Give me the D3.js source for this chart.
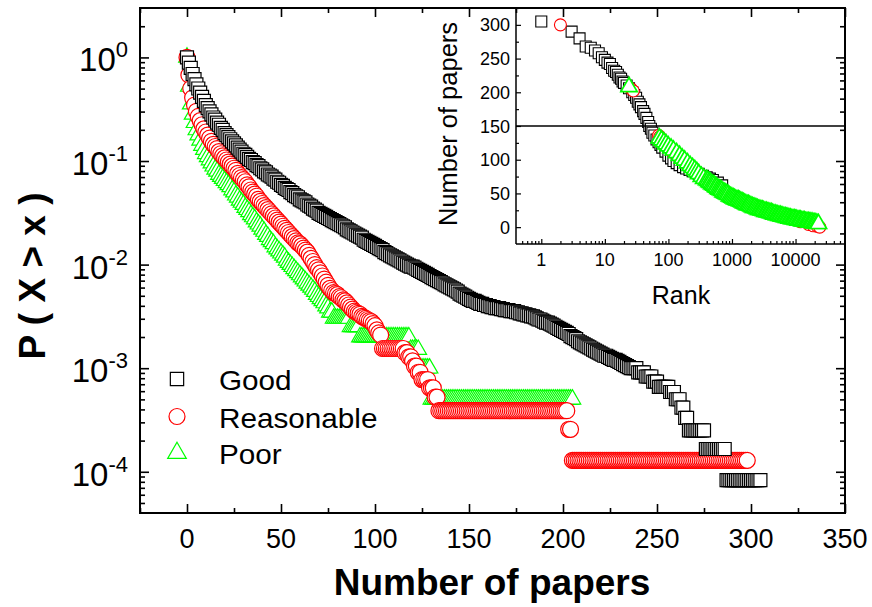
<!DOCTYPE html>
<html>
<head>
<meta charset="utf-8">
<script src="https://cdn.jsdelivr.net/npm/d3@7/dist/d3.min.js"></script>
<style>
  body { margin: 0; background: #fff; }
  svg { font-family: "Liberation Sans", Arial, sans-serif; }
</style>
</head>
<body>
<div id="chart"></div>
<script>
// CCDF P(X > x) for x = 0,1,2,... (index = number of papers), stored as log10(P)
const goodLogP = [
  0, -0.05, -0.10, -0.16, -0.21, -0.26, -0.30, -0.34, -0.38, -0.42,
  -0.46, -0.49, -0.52, -0.55, -0.58, -0.60, -0.63, -0.65, -0.68, -0.70,
  -0.73, -0.75, -0.77, -0.79, -0.81, -0.83, -0.85, -0.87, -0.89, -0.91,
  -0.93, -0.94, -0.96, -0.98, -0.99, -1.01, -1.02, -1.04, -1.05, -1.07,
  -1.08, -1.10, -1.11, -1.13, -1.14, -1.15, -1.17, -1.18, -1.20, -1.21,
  -1.23, -1.24, -1.26, -1.27, -1.28, -1.30, -1.31, -1.33, -1.34, -1.35,
  -1.37, -1.38, -1.39, -1.40, -1.42, -1.43, -1.44, -1.46, -1.47, -1.48,
  -1.50, -1.51, -1.52, -1.53, -1.54, -1.55, -1.56, -1.57, -1.58, -1.59,
  -1.60, -1.61, -1.62, -1.63, -1.64, -1.66, -1.67, -1.68, -1.69, -1.70,
  -1.71, -1.72, -1.73, -1.74, -1.76, -1.77, -1.78, -1.79, -1.80, -1.81,
  -1.82, -1.83, -1.84, -1.85, -1.86, -1.88, -1.89, -1.90, -1.91, -1.92,
  -1.93, -1.94, -1.95, -1.96, -1.97, -1.98, -1.99, -2.00, -2.01, -2.02,
  -2.02, -2.03, -2.04, -2.05, -2.06, -2.07, -2.08, -2.09, -2.10, -2.11,
  -2.12, -2.13, -2.14, -2.15, -2.16, -2.17, -2.18, -2.19, -2.20, -2.21,
  -2.22, -2.23, -2.24, -2.25, -2.26, -2.28, -2.29, -2.30, -2.31, -2.32,
  -2.33, -2.34, -2.35, -2.35, -2.36, -2.37, -2.38, -2.38, -2.39, -2.39,
  -2.40, -2.40, -2.41, -2.41, -2.42, -2.42, -2.42, -2.43, -2.43, -2.44,
  -2.44, -2.44, -2.45, -2.45, -2.45, -2.46, -2.46, -2.47, -2.47, -2.48,
  -2.48, -2.49, -2.49, -2.50, -2.50, -2.51, -2.52, -2.53, -2.53, -2.54,
  -2.55, -2.56, -2.56, -2.57, -2.58, -2.59, -2.60, -2.61, -2.62, -2.63,
  -2.64, -2.65, -2.66, -2.67, -2.69, -2.70, -2.71, -2.72, -2.74, -2.75,
  -2.76, -2.77, -2.78, -2.79, -2.80, -2.81, -2.82, -2.83, -2.84, -2.85,
  -2.86, -2.87, -2.88, -2.88, -2.89, -2.90, -2.91, -2.92, -2.92, -2.93,
  -2.94, -2.95, -2.96, -2.97, -2.98, -2.99, -3.00, -3.00, -3.00, -3.00,
  -3.04, -3.04, -3.04, -3.04, -3.08, -3.08, -3.08, -3.08, -3.13, -3.13,
  -3.13, -3.18, -3.18, -3.18, -3.18, -3.18, -3.18, -3.23, -3.23, -3.23,
  -3.30, -3.30, -3.30, -3.38, -3.38, -3.48, -3.48, -3.60, -3.60, -3.60,
  -3.60, -3.60, -3.60, -3.60, -3.60, -3.60, -3.78, -3.78, -3.78, -3.78,
  -3.78, -3.78, -3.78, -3.78, -3.78, -3.78, -3.78, -4.08, -4.08, -4.08,
  -4.08, -4.08, -4.08, -4.08, -4.08, -4.08, -4.08, -4.08, -4.08, -4.08,
  -4.08, -4.08, -4.08, -4.08, -4.08, -4.08
];

const reasonableLogP = [
  0, -0.17, -0.30, -0.39, -0.46, -0.52, -0.57, -0.61, -0.65, -0.69,
  -0.72, -0.75, -0.78, -0.81, -0.84, -0.86, -0.88, -0.91, -0.93, -0.95,
  -0.97, -0.99, -1.01, -1.03, -1.05, -1.07, -1.09, -1.12, -1.14, -1.16,
  -1.18, -1.20, -1.23, -1.25, -1.28, -1.30, -1.32, -1.34, -1.37, -1.39,
  -1.41, -1.43, -1.45, -1.47, -1.49, -1.51, -1.53, -1.55, -1.57, -1.59,
  -1.61, -1.63, -1.65, -1.67, -1.69, -1.71, -1.73, -1.75, -1.77, -1.79,
  -1.80, -1.82, -1.84, -1.86, -1.88, -1.91, -1.94, -1.97, -2.00, -2.03,
  -2.05, -2.08, -2.11, -2.14, -2.17, -2.20, -2.23, -2.25, -2.27, -2.28,
  -2.29, -2.31, -2.32, -2.34, -2.35, -2.37, -2.39, -2.41, -2.43, -2.45,
  -2.46, -2.47, -2.48, -2.50, -2.51, -2.52, -2.53, -2.54, -2.55, -2.57,
  -2.59, -2.63, -2.66, -2.68, -2.81, -2.81, -2.81, -2.81, -2.81, -2.81,
  -2.81, -2.81, -2.81, -2.81, -2.81, -2.81, -2.85, -2.85, -2.89, -2.89,
  -2.93, -2.98, -2.98, -3.04, -3.04, -3.11, -3.11, -3.11, -3.11, -3.19,
  -3.19, -3.19, -3.28, -3.28, -3.41, -3.41, -3.41, -3.41, -3.41, -3.41,
  -3.41, -3.41, -3.41, -3.41, -3.41, -3.41, -3.41, -3.41, -3.41, -3.41,
  -3.41, -3.41, -3.41, -3.41, -3.41, -3.41, -3.41, -3.41, -3.41, -3.41,
  -3.41, -3.41, -3.41, -3.41, -3.41, -3.41, -3.41, -3.41, -3.41, -3.41,
  -3.41, -3.41, -3.41, -3.41, -3.41, -3.41, -3.41, -3.41, -3.41, -3.41,
  -3.41, -3.41, -3.41, -3.41, -3.41, -3.41, -3.41, -3.41, -3.41, -3.41,
  -3.41, -3.41, -3.41, -3.41, -3.41, -3.41, -3.41, -3.41, -3.41, -3.41,
  -3.41, -3.41, -3.41, -3.59, -3.59, -3.89, -3.89, -3.89, -3.89, -3.89,
  -3.89, -3.89, -3.89, -3.89, -3.89, -3.89, -3.89, -3.89, -3.89, -3.89,
  -3.89, -3.89, -3.89, -3.89, -3.89, -3.89, -3.89, -3.89, -3.89, -3.89,
  -3.89, -3.89, -3.89, -3.89, -3.89, -3.89, -3.89, -3.89, -3.89, -3.89,
  -3.89, -3.89, -3.89, -3.89, -3.89, -3.89, -3.89, -3.89, -3.89, -3.89,
  -3.89, -3.89, -3.89, -3.89, -3.89, -3.89, -3.89, -3.89, -3.89, -3.89,
  -3.89, -3.89, -3.89, -3.89, -3.89, -3.89, -3.89, -3.89, -3.89, -3.89,
  -3.89, -3.89, -3.89, -3.89, -3.89, -3.89, -3.89, -3.89, -3.89, -3.89,
  -3.89, -3.89, -3.89, -3.89, -3.89, -3.89, -3.89, -3.89, -3.89, -3.89,
  -3.89, -3.89, -3.89, -3.89, -3.89, -3.89, -3.89, -3.89, -3.89
];

const poorLogP = [
  0, -0.28, -0.45, -0.55, -0.63, -0.70, -0.75, -0.80, -0.85, -0.89,
  -0.93, -0.96, -0.99, -1.02, -1.05, -1.08, -1.10, -1.13, -1.15, -1.17,
  -1.19, -1.21, -1.23, -1.25, -1.28, -1.30, -1.33, -1.35, -1.38, -1.40,
  -1.42, -1.45, -1.47, -1.49, -1.52, -1.54, -1.56, -1.59, -1.61, -1.63,
  -1.66, -1.68, -1.71, -1.73, -1.76, -1.78, -1.80, -1.83, -1.85, -1.87,
  -1.89, -1.91, -1.93, -1.96, -1.98, -2.00, -2.02, -2.04, -2.06, -2.08,
  -2.10, -2.12, -2.14, -2.16, -2.18, -2.20, -2.22, -2.24, -2.26, -2.29,
  -2.31, -2.33, -2.35, -2.37, -2.40, -2.42, -2.46, -2.46, -2.52, -2.52,
  -2.52, -2.52, -2.52, -2.52, -2.52, -2.52, -2.52, -2.60, -2.60, -2.60,
  -2.60, -2.60, -2.70, -2.70, -2.70, -2.70, -2.70, -2.70, -2.70, -2.70,
  -2.70, -2.70, -2.70, -2.70, -2.70, -2.70, -2.70, -2.70, -2.70, -2.70,
  -2.70, -2.70, -2.70, -2.70, -2.70, -2.70, -2.70, -2.70, -2.70, -2.82,
  -2.82, -2.82, -2.82, -2.82, -3.00, -3.00, -3.00, -3.00, -3.00, -3.00,
  -3.30, -3.30, -3.30, -3.30, -3.30, -3.30, -3.30, -3.30, -3.30, -3.30,
  -3.30, -3.30, -3.30, -3.30, -3.30, -3.30, -3.30, -3.30, -3.30, -3.30,
  -3.30, -3.30, -3.30, -3.30, -3.30, -3.30, -3.30, -3.30, -3.30, -3.30,
  -3.30, -3.30, -3.30, -3.30, -3.30, -3.30, -3.30, -3.30, -3.30, -3.30,
  -3.30, -3.30, -3.30, -3.30, -3.30, -3.30, -3.30, -3.30, -3.30, -3.30,
  -3.30, -3.30, -3.30, -3.30, -3.30, -3.30, -3.30, -3.30, -3.30, -3.30,
  -3.30, -3.30, -3.30, -3.30, -3.30, -3.30, -3.30, -3.30, -3.30, -3.30,
  -3.30, -3.30, -3.30, -3.30, -3.30, -3.30
];

// inset: number of papers vs rank
const insetGoodRank = [1,3,4,5,6,7,8,9,10,11,12,13,14,15,16,17,18,19,20,22,24,27,29,31,33,35,37,40,42,45,48,50,53,56,60,65,70,75,80,90,100,110,120,135,150,170,190,215,240,270,300,350,400,450,500,600,700];
const insetGoodVal  = [305,290,280,268,266,262,258,252,248,244,242,236,232,230,226,222,220,216,214,210,206,200,196,192,186,182,178,172,168,162,156,150,146,140,136,130,126,122,118,112,106,102,98,95,92,89,87,85,83,81,79,76,74,72,70,66,62];

const insetReasRank = [2,26,28,70,73,76,80,115,125,135,145,160,180,200,230,260,300,350,400,500,700,1000,2000,4000,8000,12000,16000,19000,22000,24000];
const insetReasVal  = [300,205,202,136,134,132,128,112,110,107,105,100,96,92,88,84,80,75,70,64,55,46,34,22,13,8,4,2,1,0];

const insetPoorRank = [24,72,78,85,92,100,110,120,135,150,165,180,200,220,240,260,280,300,330,360,
  398,417,437,457,479,501,525,550,575,603,631,661,692,724,759,794,832,871,912,955,1000,
  1047,1096,1148,1202,1259,1318,1380,1445,1514,1585,1660,1738,1820,1905,1995,2089,2188,2291,2399,2512,
  2630,2754,2884,3020,3162,3311,3467,3631,3802,3981,4169,4365,4571,4786,5012,5248,5495,5754,6026,6310,
  6607,6918,7244,7586,7943,8318,8710,9120,9550,10000,10471,10965,11482,12023,12589,13183,13804,14454,15136,15849,
  16596,17378,18197,19055,19953,20893,21878,22909];
const insetPoorVal = [208,132,129,126,123,120,117,114,110,106,102,99,95,91,88,85,82,79,75,72,
  70,69,67,66,64,63,62,60,59,57,56,55,54,52,51,50,49,48,46,45,44,
  43,42,41,40,40,39,38,37,36,35,34,33,33,32,31,30,29,29,28,27,
  26,26,25,25,24,23,23,22,22,21,21,20,19,19,18,18,17,17,16,16,
  15,15,14,14,13,13,12,12,12,11,11,10,10,10,9,9,9,8,8,8,
  7,7,7,6,6,6,5,5];

const seriesNames = ["Good", "Reasonable", "Poor"];
const xTicks = [0, 50, 100, 150, 200, 250, 300, 350];
const yTickExp = [0, -1, -2, -3, -4];
const insetXTicks = [1, 10, 100, 1000, 10000];
const insetYTicks = [0, 50, 100, 150, 200, 250, 300];
const insetCut = 150;

/* ---------- layout ---------- */
const W = 872, H = 607;
const svg = d3.select("#chart").append("svg").attr("width", W).attr("height", H);

const x = d3.scaleLinear().domain([-25, 350]).range([140, 845]);
const y = d3.scaleLog().domain([4e-5, 3]).range([513, 8]);

const ix = d3.scaleLog().domain([0.4, 6e4]).range([516, 845]);
const iy = d3.scaleLinear().domain([-25, 325]).range([244, 8]);

const sym = (type, size) => d3.symbol().type(type).size(size)();
const styles = {
  Good:       { type: d3.symbolSquare,   color: "#000000" },
  Reasonable: { type: d3.symbolCircle,   color: "#ff0000" },
  Poor:       { type: d3.symbolTriangle, color: "#00ff00" }
};
const mainSize  = { Good: 169, Reasonable: 201, Poor: 120 };
const insetSize = { Good: 121, Reasonable: 113, Poor: 115 };
const insetStroke = { Good: 1.1, Reasonable: 1.1, Poor: 1.7 };

/* ---------- main plot markers ---------- */
const mainData = {
  Good: goodLogP.map((lp, i) => ({ x: i, p: Math.pow(10, lp) })),
  Reasonable: reasonableLogP.map((lp, i) => ({ x: i, p: Math.pow(10, lp) })),
  Poor: poorLogP.map((lp, i) => ({ x: i, p: Math.pow(10, lp) }))
};

["Poor", "Reasonable", "Good"].forEach(name => {
  const st = styles[name];
  svg.append("g").selectAll("path")
    .data(mainData[name]).join("path")
    .attr("d", sym(st.type, mainSize[name]))
    .attr("transform", d => `translate(${x(d.x)},${y(d.p)})`)
    .attr("fill", "#fff")
    .attr("stroke", st.color)
    .attr("stroke-width", 1.2);
});

/* ---------- main axes: inward ticks on all four sides ---------- */
const logMinor = [];
for (let e = -5; e <= 0; e++) for (let k = 2; k <= 9; k++) {
  const v = k * Math.pow(10, e);
  if (v > 4e-5 && v < 3) logMinor.push(v);
}
const logMajor = yTickExp.map(e => Math.pow(10, e));
const xMinor = d3.range(-25, 351, 25).filter(v => v % 50 !== 0);

function ticks(gen, transform, vals, size, width) {
  svg.append("g").attr("transform", transform)
    .call(gen.tickValues(vals).tickSize(size).tickSizeOuter(0).tickFormat(""))
    .call(g => g.select(".domain").remove())
    .selectAll("line").attr("stroke", "#000").attr("stroke-width", width);
}
ticks(d3.axisLeft(y),   "translate(140,0)", logMajor, -9, 1.6);
ticks(d3.axisLeft(y),   "translate(140,0)", logMinor, -5, 1.6);
ticks(d3.axisRight(y),  "translate(845,0)", logMajor, -9, 1.6);
ticks(d3.axisRight(y),  "translate(845,0)", logMinor, -5, 1.6);
ticks(d3.axisBottom(x), "translate(0,513)", xTicks, -9, 1.6);
ticks(d3.axisBottom(x), "translate(0,513)", xMinor, -5, 1.6);
ticks(d3.axisTop(x),    "translate(0,8)",   xTicks, -9, 1.6);
ticks(d3.axisTop(x),    "translate(0,8)",   xMinor, -5, 1.6);

svg.append("rect")
  .attr("x", 140).attr("y", 8).attr("width", 705).attr("height", 505)
  .attr("fill", "none").attr("stroke", "#000").attr("stroke-width", 2);

// tick labels
svg.append("g").selectAll("text")
  .data(xTicks).join("text")
  .attr("x", d => x(d)).attr("y", 548)
  .attr("text-anchor", "middle").attr("font-size", 27)
  .text(d => d);

const yl = svg.append("g").selectAll("text")
  .data(yTickExp).join("text")
  .attr("x", 128).attr("y", d => y(Math.pow(10, d)) + 14)
  .attr("text-anchor", "end");
yl.append("tspan").attr("font-size", 33).text("10");
yl.append("tspan").attr("font-size", 22).attr("dy", -14).text(d => String(d));

// axis titles
svg.append("text")
  .attr("x", 492).attr("y", 595).attr("text-anchor", "middle")
  .attr("font-size", 37).attr("font-weight", "bold")
  .text("Number of papers");
svg.append("text")
  .attr("transform", "translate(45,276) rotate(-90)")
  .attr("text-anchor", "middle")
  .attr("font-size", 37).attr("font-weight", "bold")
  .text("P ( X > x )");

/* ---------- legend ---------- */
const legY = [379, 416.5, 453];
seriesNames.forEach((name, i) => {
  const st = styles[name];
  const size = { Good: 177, Reasonable: 201, Poor: 150 }[name];
  svg.append("path")
    .attr("d", sym(st.type, size))
    .attr("transform", `translate(177,${legY[i]})`)
    .attr("fill", "#fff").attr("stroke", st.color).attr("stroke-width", 1.2);
  svg.append("text")
    .attr("transform", `translate(219,${legY[i] + 11}) scale(1.1,1)`)
    .attr("font-size", 27)
    .text(name);
});

/* ---------- inset ---------- */
const insetData = {
  Good: insetGoodRank.map((r, i) => ({ r, v: insetGoodVal[i] })),
  Reasonable: insetReasRank.map((r, i) => ({ r, v: insetReasVal[i] })),
  Poor: insetPoorRank.map((r, i) => ({ r, v: insetPoorVal[i] }))
};
["Good", "Reasonable", "Poor"].forEach(name => {
  const st = styles[name];
  svg.append("g").selectAll("path")
    .data(insetData[name]).join("path")
    .attr("d", sym(st.type, insetSize[name]))
    .attr("transform", d => `translate(${ix(d.r)},${iy(d.v)})`)
    .attr("fill", "#fff")
    .attr("stroke", st.color)
    .attr("stroke-width", insetStroke[name]);
});

svg.append("line")
  .attr("x1", 516).attr("x2", 845)
  .attr("y1", iy(insetCut)).attr("y2", iy(insetCut))
  .attr("stroke", "#000").attr("stroke-width", 1.5);

const insetMinorX = [];
for (let e = -1; e <= 4; e++) for (let k = 2; k <= 9; k++) {
  const v = k * Math.pow(10, e);
  if (v > 0.4 && v < 6e4) insetMinorX.push(v);
}
const insetMinorY = d3.range(25, 326, 50);
ticks(d3.axisBottom(ix), "translate(0,244)", insetXTicks, -5, 1.2);
ticks(d3.axisBottom(ix), "translate(0,244)", insetMinorX, -3, 1.2);
ticks(d3.axisLeft(iy),   "translate(516,0)", insetYTicks, -5, 1.2);
ticks(d3.axisLeft(iy),   "translate(516,0)", insetMinorY, -3, 1.2);

svg.append("line").attr("x1", 516).attr("x2", 516).attr("y1", 8).attr("y2", 244)
  .attr("stroke", "#000").attr("stroke-width", 1.5);
svg.append("line").attr("x1", 516).attr("x2", 845).attr("y1", 244).attr("y2", 244)
  .attr("stroke", "#000").attr("stroke-width", 1.5);

svg.append("g").selectAll("text")
  .data(insetYTicks).join("text")
  .attr("x", 510).attr("y", d => iy(d) + 6.5)
  .attr("text-anchor", "end").attr("font-size", 18)
  .text(d => d);
svg.append("g").selectAll("text")
  .data(insetXTicks).join("text")
  .attr("x", d => ix(d)).attr("y", 266)
  .attr("text-anchor", "middle").attr("font-size", 18)
  .text(d => d);

svg.append("text")
  .attr("x", 681).attr("y", 304).attr("text-anchor", "middle")
  .attr("font-size", 25).text("Rank");
svg.append("text")
  .attr("transform", "translate(457,124) rotate(-90)")
  .attr("text-anchor", "middle")
  .attr("font-size", 25.5).text("Number of papers");
</script>
</body>
</html>
